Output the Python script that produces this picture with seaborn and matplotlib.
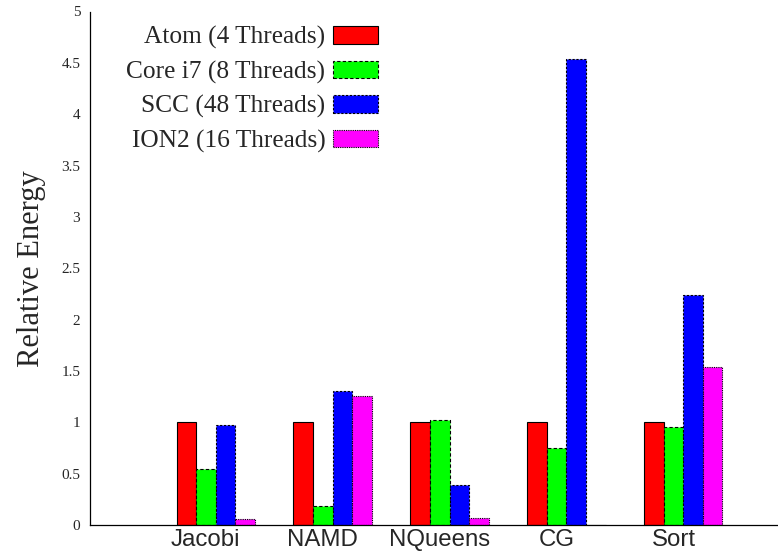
import matplotlib
matplotlib.use("Agg")
import matplotlib.pyplot as plt
import seaborn as sns
import pandas as pd

categories = ["Jacobi", "NAMD", "NQueens", "CG", "Sort"]
series = ["Atom (4 Threads)", "Core i7 (8 Threads)", "SCC (48 Threads)", "ION2 (16 Threads)"]
atom = [1.0, 1.0, 1.0, 1.0, 1.0]
core_i7 = [0.55, 0.185, 1.02, 0.75, 0.95]
scc = [0.975, 1.305, 0.385, 4.535, 2.24]
ion2 = [0.055, 1.26, 0.066, 0.0, 1.535]
y_ticks = [0, 0.5, 1, 1.5, 2, 2.5, 3, 3.5, 4, 4.5, 5]
y_tick_labels = ["0", "0.5", "1", "1.5", "2", "2.5", "3", "3.5", "4", "4.5", "5"]

values = [atom, core_i7, scc, ion2]
rows = []
for s, vals in zip(series, values):
    for c, v in zip(categories, vals):
        rows.append({"Benchmark": c, "Series": s, "Energy": v})
df = pd.DataFrame(rows)

sns.set_style("white")
plt.rcParams["font.family"] = ["Liberation Serif", "DejaVu Serif"]

fig = plt.figure(figsize=(7.78, 5.54), dpi=100)
ax = fig.add_axes([90 / 778, 1 - 525 / 554, (778 - 90) / 778, (525 - 11.5) / 554])

colors = ["#ff0000", "#00ff00", "#0000ff", "#ff00ff"]
sns.barplot(data=df, x="Benchmark", y="Energy", hue="Series", order=categories,
            hue_order=series, palette=colors, width=0.667, saturation=1,
            legend=False, ax=ax, errorbar=None)

styles = ["solid", (0, (3, 2)), (0, (2, 1.5)), (0, (1, 1))]
for cont, ls in zip(ax.containers, styles):
    for p in cont.patches:
        p.set_edgecolor("black")
        p.set_linewidth(0.8)
        p.set_linestyle(ls)

ax.set_xlim(-1.073, 4.808)
ax.set_ylim(0, 5)
ax.set_yticks(y_ticks)
ax.set_yticklabels(y_tick_labels)
ax.set_xticks([i - 0.085 for i in range(len(categories))])
ax.set_xticklabels(categories, fontfamily="Liberation Sans", fontsize=17.3)
ax.tick_params(axis="x", length=0, pad=3)
ax.tick_params(axis="y", direction="in", length=5, width=0.8, pad=7, labelsize=11)
for lbl in ax.get_yticklabels():
    lbl.set_fontfamily("Liberation Serif")

ax.set_xlabel("")
ax.set_ylabel("Relative Energy", fontsize=22, fontfamily="Liberation Serif")
ax.yaxis.set_label_coords(-0.064, 0.5)

for side in ["top", "right"]:
    ax.spines[side].set_visible(False)
for side in ["left", "bottom"]:
    ax.spines[side].set_color("black")
    ax.spines[side].set_linewidth(0.9)

handles = [cont.patches[0] for cont in ax.containers]
leg = fig.legend(handles, series, loc="upper right",
                 bbox_to_anchor=(378 / 778, 1 - 26 / 554),
                 frameon=False, markerfirst=False,
                 prop={"family": "Liberation Serif", "size": 18.3},
                 handlelength=1.77, handleheight=0.69, labelspacing=0.45,
                 handletextpad=0.3, borderpad=0, borderaxespad=0)

fig.savefig("out.png", dpi=100)
